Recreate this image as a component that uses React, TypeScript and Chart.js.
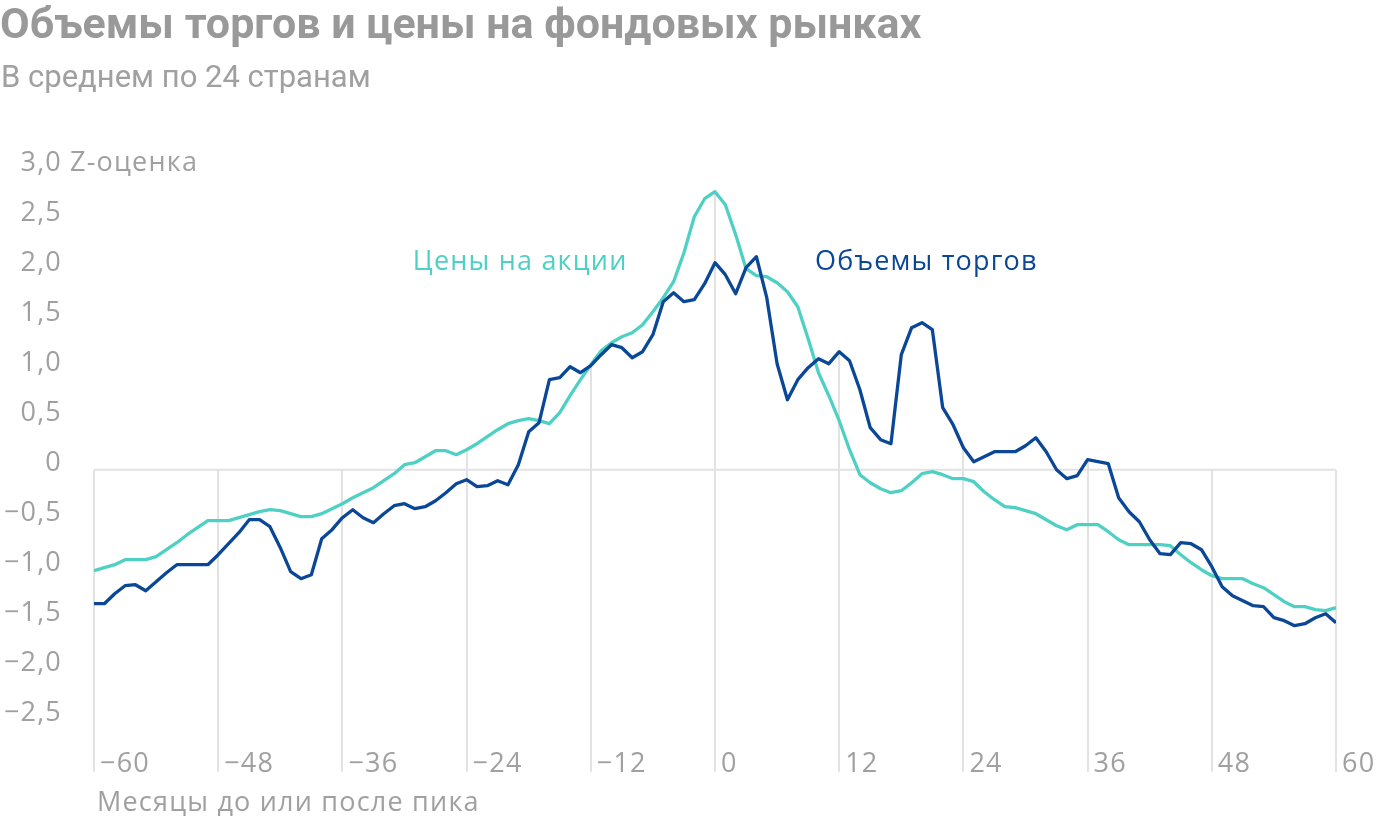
import React, { useEffect, useRef } from 'react';
import { Chart, registerables } from 'chart.js';

Chart.register(...registerables);

// ---- data ----
const months: number[] = Array.from({ length: 121 }, (_, i) => i - 60);

const priceValues: number[] = [
  -1.01, -0.98, -0.95, -0.90, -0.90, -0.90, -0.87, -0.80, -0.73, -0.65,
  -0.58, -0.51, -0.51, -0.51, -0.48, -0.45, -0.42, -0.40, -0.41, -0.44,
  -0.47, -0.47, -0.44, -0.39, -0.34, -0.28, -0.23, -0.18, -0.11, -0.04,
  0.05, 0.07, 0.13, 0.19, 0.19, 0.15, 0.20, 0.26, 0.33, 0.40,
  0.46, 0.49, 0.51, 0.49, 0.46, 0.57, 0.74, 0.90, 1.05, 1.19,
  1.27, 1.33, 1.37, 1.45, 1.58, 1.72, 1.88, 2.17, 2.53, 2.71,
  2.78,
  2.65, 2.35, 2.01, 1.94, 1.93, 1.87, 1.78, 1.63, 1.31, 0.97,
  0.74, 0.49, 0.20, -0.05, -0.13, -0.19, -0.23, -0.21, -0.13, -0.04,
  -0.02, -0.05, -0.09, -0.09, -0.12, -0.22, -0.30, -0.37, -0.38, -0.41,
  -0.44, -0.50, -0.56, -0.60, -0.55, -0.55, -0.55, -0.62, -0.70, -0.75,
  -0.75, -0.75, -0.75, -0.76, -0.85, -0.93, -1.00, -1.06, -1.09, -1.09,
  -1.09, -1.14, -1.18, -1.25, -1.32, -1.37, -1.37, -1.40, -1.41, -1.38,
];

const volumeValues: number[] = [
  -1.34, -1.34, -1.24, -1.16, -1.15, -1.21, -1.12, -1.03, -0.95, -0.95,
  -0.95, -0.95, -0.85, -0.74, -0.63, -0.50, -0.50, -0.57, -0.78, -1.02,
  -1.09, -1.05, -0.69, -0.60, -0.48, -0.40, -0.48, -0.53, -0.44, -0.36,
  -0.34, -0.39, -0.37, -0.31, -0.23, -0.14, -0.10, -0.17, -0.16, -0.11,
  -0.15, 0.05, 0.38, 0.47, 0.90, 0.92, 1.03, 0.97, 1.04, 1.15,
  1.25, 1.22, 1.12, 1.18, 1.35, 1.68, 1.77, 1.68, 1.70, 1.86,
  2.07,
  1.95, 1.76, 2.02, 2.13, 1.72, 1.06, 0.70, 0.90, 1.02, 1.11,
  1.06, 1.18, 1.09, 0.80, 0.42, 0.30, 0.26, 1.15, 1.42, 1.47,
  1.40, 0.62, 0.45, 0.22, 0.08, 0.13, 0.18, 0.18, 0.18, 0.24,
  0.32, 0.18, 0.00, -0.09, -0.06, 0.10, 0.08, 0.06, -0.28, -0.42,
  -0.52, -0.70, -0.84, -0.85, -0.73, -0.74, -0.80, -0.97, -1.17, -1.26,
  -1.31, -1.36, -1.37, -1.48, -1.51, -1.56, -1.54, -1.48, -1.44, -1.53,
];

const xTicks: number[] = [-60, -48, -36, -24, -12, 0, 12, 24, 36, 48, 60];
const xTickLabels: string[] = ['−60', '−48', '−36', '−24', '−12', '0', '12', '24', '36', '48', '60'];
const yTicks: number[] = [3, 2.5, 2, 1.5, 1, 0.5, 0, -0.5, -1, -1.5, -2, -2.5];
const yTickLabels: string[] = ['3,0', '2,5', '2,0', '1,5', '1,0', '0,5', '0', '−0,5', '−1,0', '−1,5', '−2,0', '−2,5'];

const TITLE = 'Объемы торгов и цены на фондовых рынках';
const SUBTITLE = 'В среднем по 24 странам';
const Y_UNIT = 'Z-оценка';
const X_TITLE = 'Месяцы до или после пика';
const PRICE_LABEL = 'Цены на акции';
const VOLUME_LABEL = 'Объемы торгов';

// ---- style ----
const CYAN = '#4fd0c4';
const BLUE = '#0b4797';
const GRID = '#e2e2e2';
const TEXT = '#a0a0a0';
const TITLE_COLOR = '#999999';
const TITLE_FONT = 'Roboto, "Noto Sans", sans-serif';
const FONT = '"Open Sans", Roboto, sans-serif';

const annotationPlugin = {
  id: 'customDecor',
  beforeDatasetsDraw(chart: any) {
    const { ctx, chartArea } = chart;
    const xs = chart.scales.x;
    const ys = chart.scales.y;
    const zero = ys.getPixelForValue(0);
    ctx.save();
    ctx.strokeStyle = GRID;
    ctx.lineWidth = 2;
    ctx.beginPath();
    ctx.moveTo(chartArea.left, zero);
    ctx.lineTo(chartArea.right, zero);
    ctx.stroke();
    xTicks.forEach((t) => {
      const i = months.indexOf(t);
      const top = Math.max(0, priceValues[i], volumeValues[i]);
      const px = Math.round(xs.getPixelForValue(t));
      ctx.beginPath();
      ctx.moveTo(px, chartArea.bottom);
      ctx.lineTo(px, ys.getPixelForValue(top));
      ctx.stroke();
    });
    ctx.restore();
  },
  afterDraw(chart: any) {
    const { ctx, chartArea } = chart;
    const xs = chart.scales.x;
    const ys = chart.scales.y;
    ctx.save();
    ctx.textBaseline = 'alphabetic';
    // title
    ctx.fillStyle = TITLE_COLOR;
    ctx.font = `bold 43px ${TITLE_FONT}`;
    ctx.textAlign = 'left';
    ctx.fillText(TITLE, 0, 38);
    ctx.fillStyle = TEXT;
    ctx.font = `31px ${TITLE_FONT}`;
    ctx.fillText(SUBTITLE, 1, 87);
    // y ticks
    ctx.font = `27px ${FONT}`;
    try { (ctx as any).letterSpacing = '1.2px'; } catch (e) { /* ignore */ }
    yTicks.forEach((v, k) => {
      const py = ys.getPixelForValue(v);
      ctx.textAlign = 'right';
      ctx.fillText(yTickLabels[k], 62, py + 1);
      if (k === 0) {
        ctx.textAlign = 'left';
        ctx.fillText(Y_UNIT, 70, py + 1);
      }
    });
    // x ticks
    ctx.textAlign = 'left';
    xTicks.forEach((t, k) => {
      const px = xs.getPixelForValue(t);
      ctx.fillText(xTickLabels[k], px + 6, chartArea.bottom);
    });
    ctx.fillText(X_TITLE, 97, 811);
    // series labels
    ctx.fillStyle = CYAN;
    ctx.fillText(PRICE_LABEL, xs.getPixelForValue(-29.2), ys.getPixelForValue(2.0));
    ctx.fillStyle = BLUE;
    ctx.fillText(VOLUME_LABEL, xs.getPixelForValue(9.66), ys.getPixelForValue(2.0));
    ctx.restore();
  },
};

export default function App() {
  const canvasRef = useRef<HTMLCanvasElement | null>(null);

  useEffect(() => {
    const canvas = canvasRef.current;
    if (!canvas) return;
    const chart = new Chart(canvas, {
      type: 'line',
      data: {
        datasets: [
          {
            label: VOLUME_LABEL,
            data: months.map((m, i) => ({ x: m, y: volumeValues[i] })),
            borderColor: BLUE,
            backgroundColor: BLUE,
            borderWidth: 3.3,
            pointRadius: 0,
            tension: 0,
            borderJoinStyle: 'round',
          },
          {
            label: PRICE_LABEL,
            data: months.map((m, i) => ({ x: m, y: priceValues[i] })),
            borderColor: CYAN,
            backgroundColor: CYAN,
            borderWidth: 3.3,
            pointRadius: 0,
            tension: 0,
            borderJoinStyle: 'round',
          },
        ],
      },
      options: {
        responsive: false,
        animation: false,
        devicePixelRatio: 1,
        layout: { padding: { left: 94, right: 64, top: 169.7, bottom: 60.3 } },
        scales: {
          x: { type: 'linear', min: -60, max: 60, display: false },
          y: { type: 'linear', min: -3.02, max: 3.0, display: false },
        },
        plugins: {
          legend: { display: false },
          tooltip: { enabled: false },
          title: { display: false },
        },
      },
      plugins: [annotationPlugin],
    } as any);
    return () => chart.destroy();
  }, []);

  return (
    <div style={{ position: 'absolute', left: 0, top: 0, width: 1400, height: 832, background: '#fff' }}>
      <canvas ref={canvasRef} width={1400} height={832} style={{ display: 'block', width: 1400, height: 832 }} />
    </div>
  );
}
